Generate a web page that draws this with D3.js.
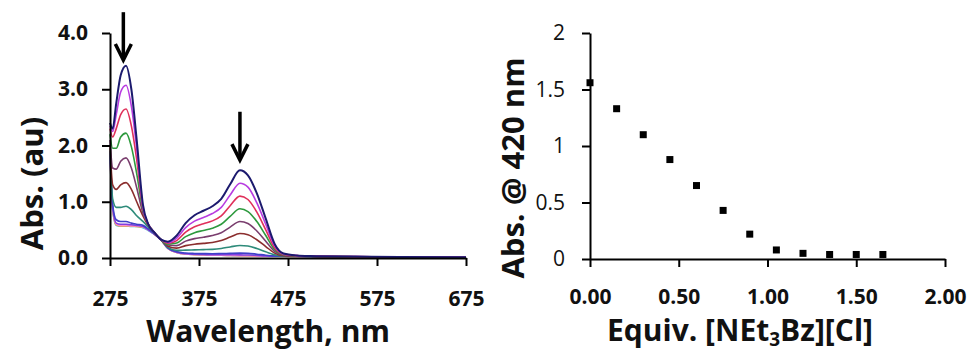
<!DOCTYPE html>
<html>
<head>
<meta charset="utf-8">
<script src="https://cdn.jsdelivr.net/npm/d3@7"></script>
<style>
  html, body { margin: 0; padding: 0; background: #fff; }
  svg { display: block; }
</style>
</head>
<body>
<script>
// ---------- DATA ----------
const wavelengths = [275, 278, 282, 287, 293, 299, 305, 312, 318, 325, 332, 340, 350, 360, 370, 380, 390, 400, 410, 421, 430, 440, 450, 460, 470, 485, 500, 550, 600, 675];

const spec1  = [2.40, 2.30, 2.75, 3.25, 3.42, 3.00, 2.10, 0.95, 0.60, 0.45, 0.33, 0.29, 0.40, 0.62, 0.76, 0.84, 0.92, 1.05, 1.31, 1.56, 1.47, 1.15, 0.70, 0.25, 0.08, 0.045, 0.035, 0.025, 0.018, 0.012];
const spec2  = [2.35, 2.25, 2.55, 2.95, 3.07, 2.70, 1.95, 0.90, 0.60, 0.45, 0.33, 0.275, 0.355, 0.54, 0.655, 0.72, 0.79, 0.90, 1.12, 1.33, 1.26, 0.98, 0.60, 0.22, 0.07, 0.043, 0.034, 0.024, 0.017, 0.012];
const spec3  = [2.30, 2.15, 2.30, 2.55, 2.65, 2.35, 1.75, 0.88, 0.60, 0.45, 0.33, 0.26, 0.31, 0.46, 0.555, 0.61, 0.66, 0.75, 0.93, 1.10, 1.04, 0.815, 0.50, 0.18, 0.065, 0.042, 0.033, 0.024, 0.017, 0.012];
const spec4  = [2.20, 1.95, 1.95, 2.15, 2.22, 1.98, 1.50, 0.85, 0.60, 0.45, 0.33, 0.245, 0.265, 0.38, 0.45, 0.49, 0.53, 0.60, 0.74, 0.876, 0.826, 0.648, 0.40, 0.15, 0.058, 0.04, 0.032, 0.023, 0.016, 0.011];
const spec5  = [2.10, 1.60, 1.58, 1.72, 1.78, 1.60, 1.25, 0.80, 0.60, 0.45, 0.33, 0.23, 0.22, 0.30, 0.345, 0.37, 0.40, 0.45, 0.55, 0.648, 0.612, 0.481, 0.298, 0.118, 0.05, 0.038, 0.031, 0.022, 0.016, 0.011];
const spec6  = [2.00, 1.30, 1.22, 1.30, 1.34, 1.22, 1.00, 0.75, 0.58, 0.45, 0.33, 0.21, 0.175, 0.22, 0.245, 0.26, 0.275, 0.31, 0.372, 0.435, 0.412, 0.325, 0.204, 0.087, 0.043, 0.036, 0.030, 0.021, 0.015, 0.010];
const spec7  = [1.95, 1.05, 0.90, 0.90, 0.92, 0.86, 0.75, 0.65, 0.55, 0.44, 0.33, 0.19, 0.135, 0.14, 0.145, 0.149, 0.154, 0.17, 0.197, 0.222, 0.212, 0.169, 0.11, 0.056, 0.036, 0.034, 0.029, 0.021, 0.015, 0.010];
const spec8  = [1.90, 0.95, 0.68, 0.65, 0.65, 0.62, 0.60, 0.58, 0.52, 0.43, 0.33, 0.18, 0.11, 0.088, 0.081, 0.078, 0.076, 0.079, 0.083, 0.086, 0.083, 0.068, 0.05, 0.037, 0.032, 0.032, 0.028, 0.020, 0.014, 0.010];
const spec9  = [1.90, 0.90, 0.62, 0.60, 0.60, 0.59, 0.58, 0.56, 0.50, 0.42, 0.33, 0.175, 0.103, 0.076, 0.067, 0.063, 0.058, 0.06, 0.058, 0.055, 0.054, 0.046, 0.037, 0.032, 0.03, 0.03, 0.027, 0.020, 0.014, 0.010];
const spec10 = [1.85, 0.88, 0.60, 0.58, 0.58, 0.57, 0.57, 0.55, 0.50, 0.42, 0.33, 0.17, 0.10, 0.07, 0.06, 0.055, 0.05, 0.05, 0.045, 0.042, 0.04, 0.035, 0.03, 0.03, 0.03, 0.029, 0.026, 0.019, 0.014, 0.010];
const spec11 = [1.85, 0.87, 0.59, 0.57, 0.57, 0.57, 0.56, 0.55, 0.50, 0.42, 0.33, 0.17, 0.10, 0.07, 0.06, 0.055, 0.05, 0.05, 0.045, 0.041, 0.04, 0.035, 0.03, 0.03, 0.03, 0.029, 0.026, 0.019, 0.014, 0.010];
const spec12 = [1.80, 0.86, 0.58, 0.57, 0.57, 0.56, 0.56, 0.54, 0.49, 0.42, 0.33, 0.17, 0.10, 0.07, 0.06, 0.055, 0.05, 0.05, 0.045, 0.04, 0.04, 0.035, 0.03, 0.03, 0.03, 0.028, 0.025, 0.018, 0.013, 0.010];

const spectra = [spec1, spec2, spec3, spec4, spec5, spec6, spec7, spec8, spec9, spec10, spec11, spec12];
const spectraColors = ["#1c1a6e", "#b83ce0", "#e0305a", "#2e9a3e", "#7a3e6e", "#8b2e2e", "#2e8b7a", "#4040c8", "#8040e0", "#ff8cc8", "#f0a030", "#40c0e0"];

const xTicksLeft = [275, 375, 475, 575, 675];
const yTicksLeft = [0, 1, 2, 3, 4];

// titration data
const equiv = [0.00, 0.15, 0.30, 0.45, 0.60, 0.75, 0.90, 1.05, 1.20, 1.35, 1.50, 1.65];
const abs420 = [1.56, 1.33, 1.10, 0.88, 0.65, 0.43, 0.22, 0.08, 0.05, 0.04, 0.04, 0.04];
const xTicksRight = [0, 0.5, 1, 1.5, 2];
const yTicksRight = [0, 0.5, 1, 1.5, 2];

// arrows (wavelength, from abs, to abs)
const arrows = [[290, 4.37, 3.52], [421, 2.60, 1.74]];

// ---------- DRAW ----------
const W = 971, H = 354;
const FONT = "'Open Sans', 'Noto Sans', sans-serif";
const svg = d3.select("body").append("svg").attr("width", W).attr("height", H);

function styleAxis(g, weight, size) {
  g.selectAll("path.domain").attr("stroke", "#000").attr("stroke-width", 2);
  g.selectAll(".tick line").attr("stroke", "#000").attr("stroke-width", 2);
  g.selectAll(".tick text").attr("fill", "#111")
    .style("font-family", FONT).style("font-weight", weight).style("font-size", size + "px");
  g.attr("font-family", null);
}

// Left panel
const x1 = d3.scaleLinear().domain([275, 675]).range([110, 466]);
const y1 = d3.scaleLinear().domain([0, 4]).range([258, 33]);

const line1 = d3.line().x((d, i) => x1(wavelengths[i])).y(d => y1(d)).curve(d3.curveMonotoneX);
const gLines = svg.append("g");
for (let k = spectra.length - 1; k >= 0; k--) {
  gLines.append("path").attr("d", line1(spectra[k]))
    .attr("fill", "none").attr("stroke", spectraColors[k])
    .attr("stroke-width", k === 0 ? 2 : 1.6);
}

const gx1 = svg.append("g").attr("transform", `translate(0,${y1(0)})`)
  .call(d3.axisBottom(x1).tickValues(xTicksLeft).tickSize(8).tickSizeOuter(0).tickPadding(25));
styleAxis(gx1, "bold", 21);
const gy1 = svg.append("g").attr("transform", `translate(${x1(275)},0)`)
  .call(d3.axisLeft(y1).tickValues(yTicksLeft).tickFormat(d3.format(".1f")).tickSize(8).tickSizeOuter(0).tickPadding(14));
styleAxis(gy1, "bold", 21);

// arrows
const gArr = svg.append("g").attr("stroke", "#000").attr("stroke-width", 3.5).attr("fill", "none");
arrows.forEach(([wl, a0, a1]) => {
  const ax = x1(wl), yA = y1(a0), yB = y1(a1);
  gArr.append("line").attr("x1", ax).attr("x2", ax).attr("y1", yA).attr("y2", yB - 2);
  gArr.append("path").attr("d", `M${ax - 8},${yB - 16} L${ax},${yB} L${ax + 8},${yB - 16}`)
    .attr("stroke-linejoin", "miter");
});

svg.append("text").attr("transform", `translate(31,${(y1(0) + y1(4)) / 2 + 38}) rotate(-90)`)
  .attr("text-anchor", "middle").attr("dominant-baseline", "central")
  .style("font-family", FONT).style("font-weight", "bold").style("font-size", "31px").attr("fill", "#111")
  .text("Abs. (au)");
svg.append("text").attr("x", 268).attr("y", 342).attr("text-anchor", "middle")
  .style("font-family", FONT).style("font-weight", "bold").style("font-size", "30px").attr("fill", "#111")
  .text("Wavelength, nm");

// Right panel
const x2 = d3.scaleLinear().domain([0, 2]).range([590, 945]);
const y2 = d3.scaleLinear().domain([0, 2]).range([259, 33]);

const gx2 = svg.append("g").attr("transform", `translate(0,${y2(0)})`)
  .call(d3.axisBottom(x2).tickValues(xTicksRight).tickFormat(d3.format(".2f")).tickSize(8).tickSizeOuter(0).tickPadding(22));
styleAxis(gx2, "bold", 21);
const gy2 = svg.append("g").attr("transform", `translate(${x2(0)},0)`)
  .call(d3.axisLeft(y2).tickValues(yTicksRight).tickFormat(d3.format("~g")).tickSize(8).tickSizeOuter(0).tickPadding(17));
styleAxis(gy2, "normal", 21);

svg.append("g").selectAll("rect").data(equiv).join("rect")
  .attr("x", (d) => x2(d) - 3.5).attr("y", (d, i) => y2(abs420[i]) - 3.5)
  .attr("width", 7).attr("height", 7).attr("fill", "#000");

svg.append("text").attr("transform", `translate(512,168) rotate(-90)`)
  .attr("text-anchor", "middle").attr("dominant-baseline", "central")
  .style("font-family", FONT).style("font-weight", "bold").style("font-size", "31px").attr("fill", "#111")
  .text("Abs. @ 420 nm");
const t2 = svg.append("text").attr("x", 740).attr("y", 341).attr("text-anchor", "middle")
  .style("font-family", FONT).style("font-weight", "bold").style("font-size", "30px").attr("fill", "#111");
t2.append("tspan").text("Equiv. [NEt");
t2.append("tspan").text("3").style("font-size", "19px").attr("dy", 5);
t2.append("tspan").text("Bz][Cl]").attr("dy", -5);
</script>
</body>
</html>
